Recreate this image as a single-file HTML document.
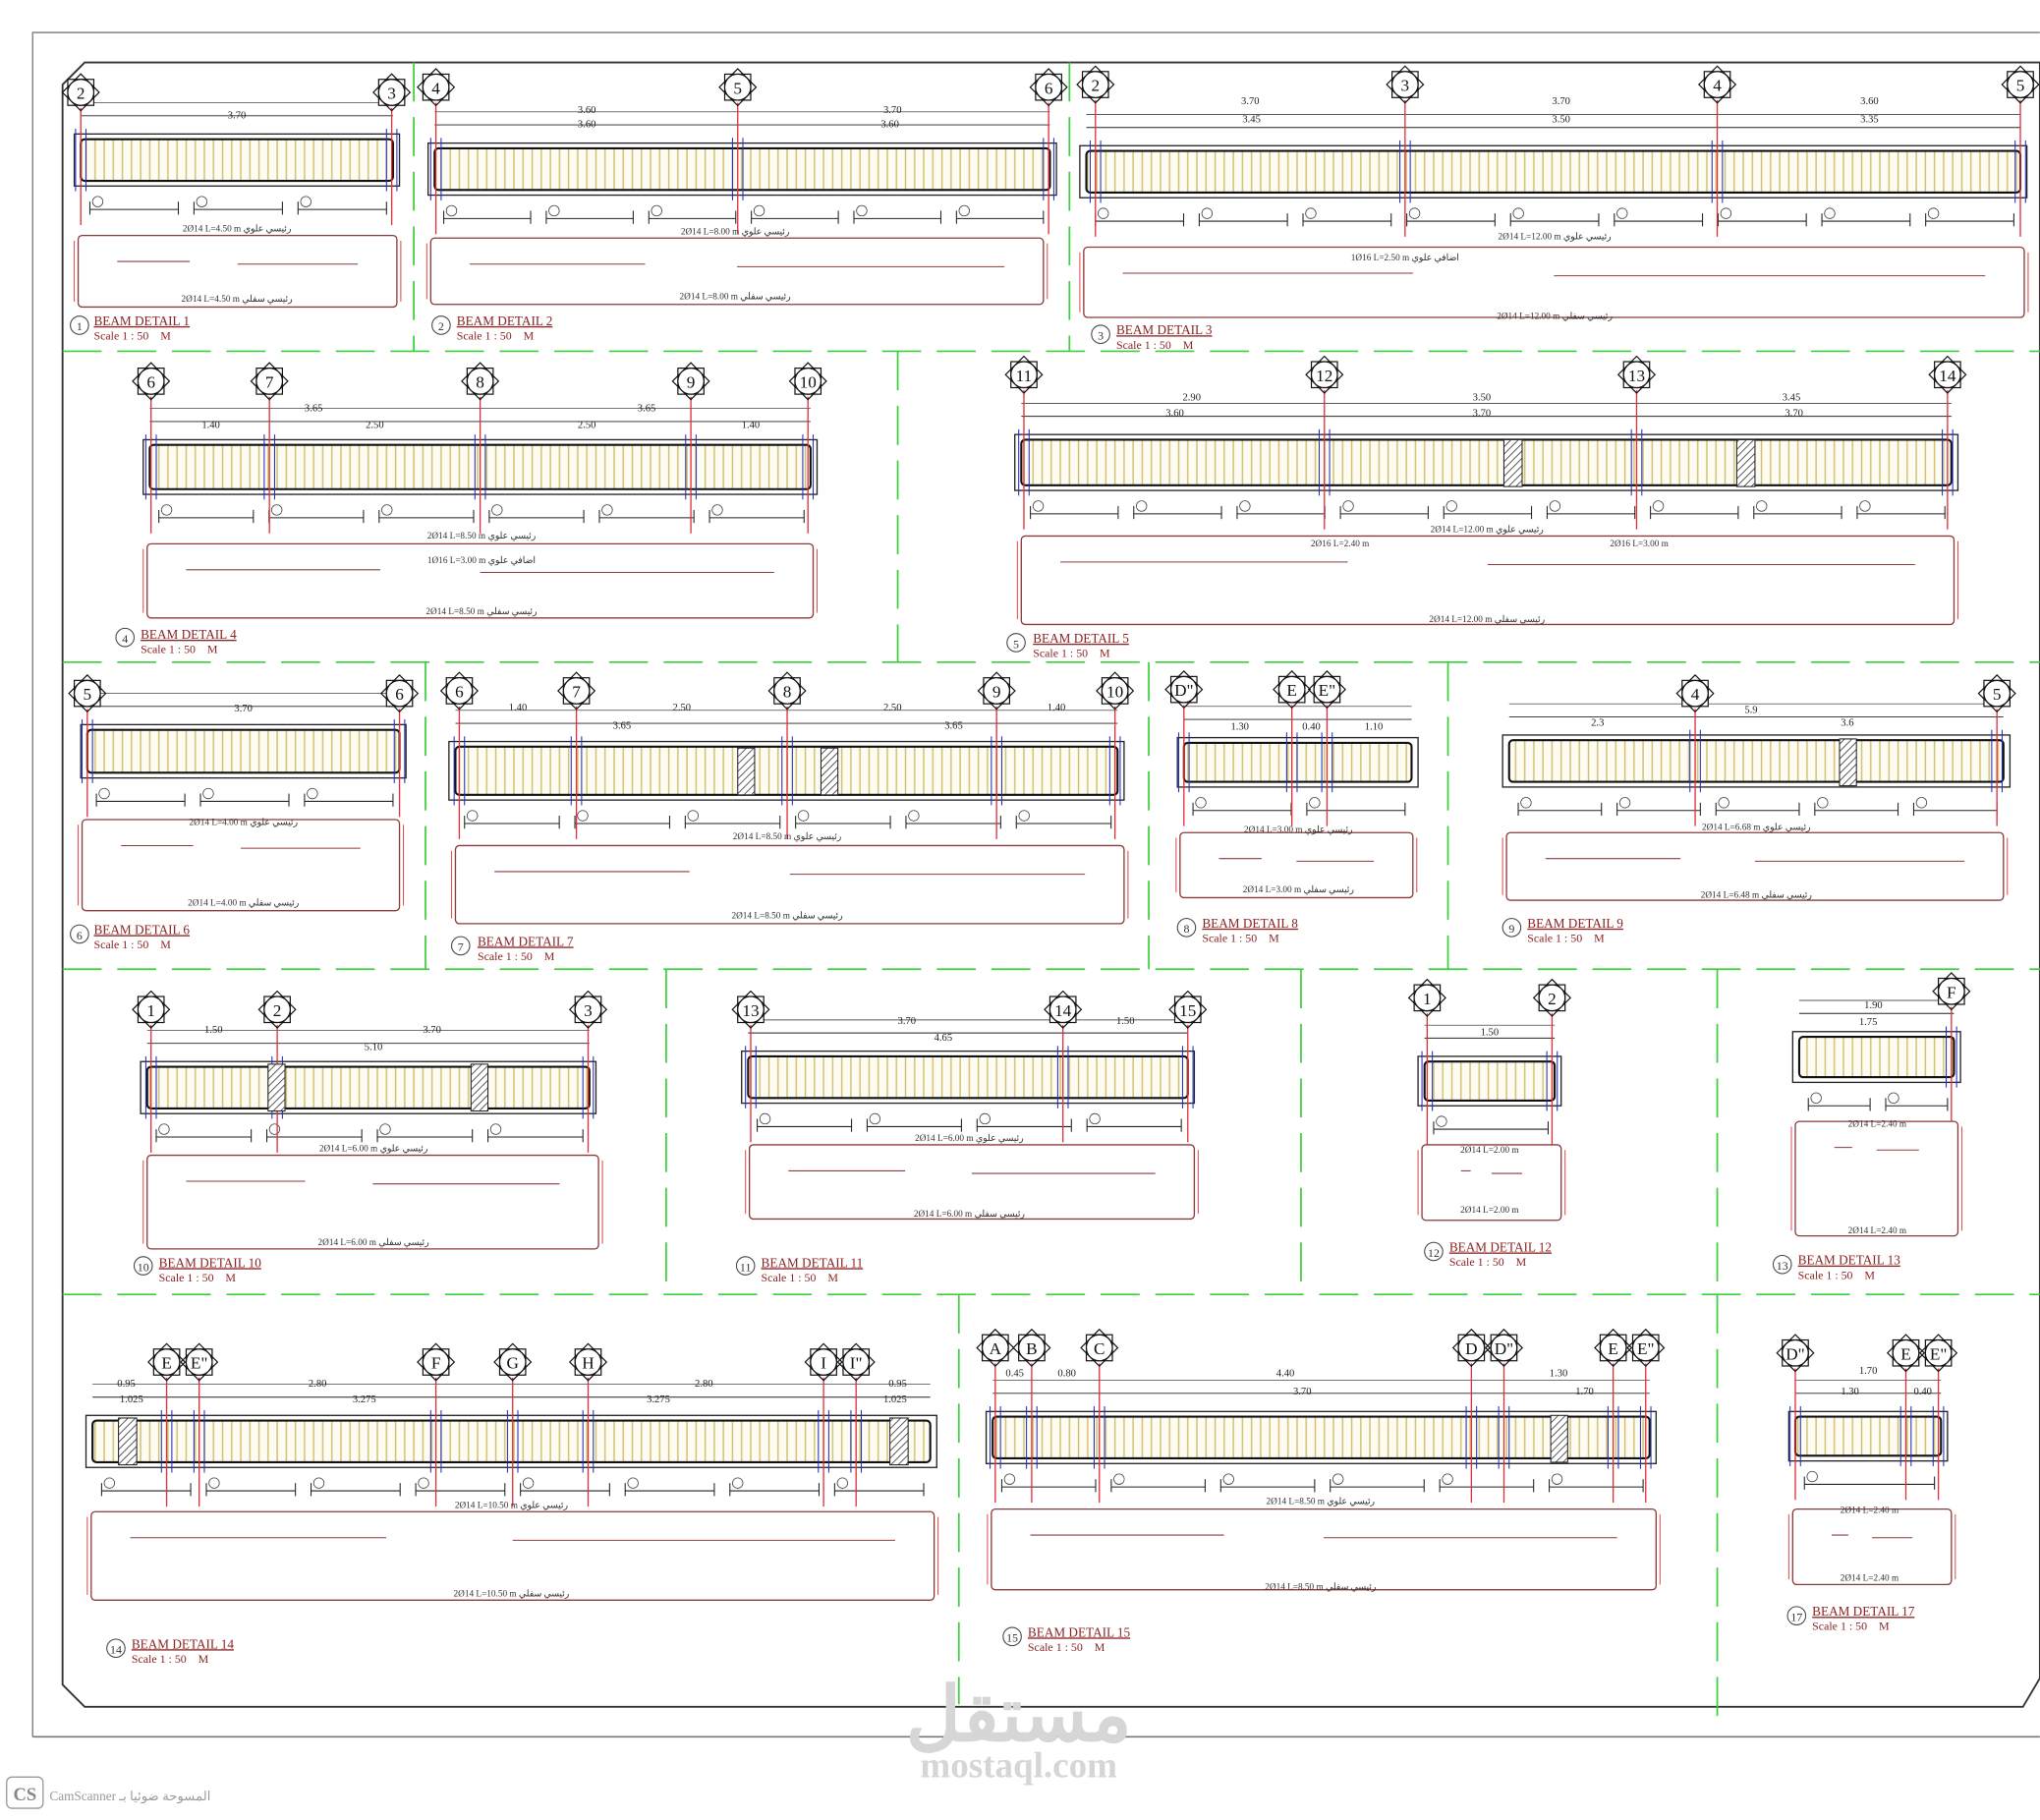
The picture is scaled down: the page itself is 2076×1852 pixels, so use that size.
<!DOCTYPE html>
<html><head><meta charset="utf-8">
<style>
html,body{margin:0;padding:0;background:#fff;}
svg{display:block;}
text{font-family:"Liberation Serif",serif;}
.b{font-size:13px;text-anchor:middle;fill:#111;}
.d{font-size:8px;text-anchor:middle;fill:#222;}
.t{font-size:10px;fill:#8b2323;text-decoration:underline;}
.s{font-size:9px;fill:#8b2323;}
.r{font-size:7px;fill:#333;text-anchor:middle;}
</style></head>
<body>
<svg id="sv" width="2076" height="1852" viewBox="0 0 1568 1399" xmlns="http://www.w3.org/2000/svg">
<defs>
<pattern id="st" width="7" height="10" patternUnits="userSpaceOnUse"><rect width="7" height="10" fill="#fefcf2"/><line x1="3" y1="0" x2="3" y2="10" stroke="#cfc070" stroke-width="1.1"/></pattern>
<pattern id="hat" width="4" height="4" patternUnits="userSpaceOnUse" patternTransform="rotate(45)"><rect width="4" height="4" fill="#fff"/><line x1="0" y1="0" x2="0" y2="4" stroke="#333" stroke-width="1.2"/></pattern>
<g id="bub"><rect x="-10" y="-10" width="20" height="20" fill="#fff" stroke="#111" stroke-width="0.9"/><rect x="-10" y="-10" width="20" height="20" fill="none" stroke="#111" stroke-width="0.9" transform="rotate(45)"/><circle r="10" fill="#fff" stroke="#111" stroke-width="0.9"/></g>
</defs>
<rect width="1568" height="1399" fill="#fff"/>
<polyline points="25,1335 25,25 1568,25" fill="none" stroke="#777" stroke-width="1"/>
<line x1="25" y1="1335" x2="1568" y2="1335" stroke="#777" stroke-width="1.2"/>
<polygon points="65,48 1568,48 1568,1290 1555,1312 65,1312 48,1295 48,65" fill="none" stroke="#333" stroke-width="1.4"/>
<g id="grid" stroke="#3ccf3c" stroke-width="1.3" fill="none"></g>
<g id="g"></g>
<g class="b">
<text x="62" y="76">2</text><text x="301" y="76">3</text>
<text x="335" y="72">4</text><text x="567" y="72">5</text><text x="806" y="72">6</text>
<text x="842" y="70">2</text><text x="1080" y="70">3</text><text x="1320" y="70">4</text><text x="1553" y="70">5</text>
<text x="116" y="298">6</text><text x="207" y="298">7</text><text x="369" y="298">8</text><text x="531" y="298">9</text><text x="621" y="298">10</text>
<text x="787" y="293">11</text><text x="1018" y="293">12</text><text x="1258" y="293">13</text><text x="1497" y="293">14</text>
<text x="67" y="538">5</text><text x="307" y="538">6</text>
<text x="353" y="536">6</text><text x="443" y="536">7</text><text x="605" y="536">8</text><text x="766" y="536">9</text><text x="857" y="536">10</text>
<text x="910" y="535">D"</text><text x="993" y="535">E</text><text x="1020" y="535">E"</text>
<text x="1303" y="538">4</text><text x="1535" y="538">5</text>
<text x="116" y="781">1</text><text x="213" y="781">2</text><text x="452" y="781">3</text>
<text x="577" y="781">13</text><text x="817" y="781">14</text><text x="913" y="781">15</text>
<text x="1097" y="772">1</text><text x="1193" y="772">2</text>
<text x="1500" y="767">F</text>
<text x="128" y="1052">E</text><text x="153" y="1052">E"</text><text x="335" y="1052">F</text><text x="394" y="1052">G</text><text x="452" y="1052">H</text><text x="633" y="1052">I</text><text x="658" y="1052">I"</text>
<text x="765" y="1041">A</text><text x="793" y="1041">B</text><text x="845" y="1041">C</text><text x="1131" y="1041">D</text><text x="1156" y="1041">D"</text><text x="1240" y="1041">E</text><text x="1265" y="1041">E"</text>
<text x="1380" y="1045">D"</text><text x="1465" y="1045">E</text><text x="1490" y="1045">E"</text>
</g>
<g class="d">
<text x="182" y="91">3.70</text>
<text x="451" y="87">3.60</text><text x="686" y="87">3.70</text><text x="451" y="98">3.60</text><text x="684" y="98">3.60</text>
<text x="961" y="80">3.70</text><text x="1200" y="80">3.70</text><text x="1437" y="80">3.60</text><text x="962" y="94">3.45</text><text x="1200" y="94">3.50</text><text x="1437" y="94">3.35</text>
<text x="241" y="316">3.65</text><text x="497" y="316">3.65</text><text x="162" y="329">1.40</text><text x="288" y="329">2.50</text><text x="451" y="329">2.50</text><text x="577" y="329">1.40</text>
<text x="916" y="308">2.90</text><text x="1139" y="308">3.50</text><text x="1377" y="308">3.45</text><text x="903" y="320">3.60</text><text x="1139" y="320">3.70</text><text x="1379" y="320">3.70</text>
<text x="187" y="547">3.70</text>
<text x="398" y="546">1.40</text><text x="524" y="546">2.50</text><text x="686" y="546">2.50</text><text x="812" y="546">1.40</text><text x="478" y="560">3.65</text><text x="733" y="560">3.65</text>
<text x="953" y="561">1.30</text><text x="1008" y="561">0.40</text><text x="1056" y="561">1.10</text>
<text x="1228" y="558">2.3</text><text x="1346" y="548">5.9</text><text x="1420" y="558">3.6</text>
<text x="164" y="794">1.50</text><text x="332" y="794">3.70</text><text x="287" y="807">5.10</text>
<text x="697" y="787">3.70</text><text x="865" y="787">1.50</text><text x="725" y="800">4.65</text>
<text x="1145" y="796">1.50</text>
<text x="1440" y="775">1.90</text><text x="1436" y="788">1.75</text>
<text x="97" y="1066">0.95</text><text x="244" y="1066">2.80</text><text x="541" y="1066">2.80</text><text x="690" y="1066">0.95</text><text x="101" y="1078">1.025</text><text x="280" y="1078">3.275</text><text x="506" y="1078">3.275</text><text x="688" y="1078">1.025</text>
<text x="988" y="1058">4.40</text><text x="1001" y="1072">3.70</text><text x="1218" y="1072">1.70</text><text x="1198" y="1058">1.30</text><text x="780" y="1058">0.45</text><text x="820" y="1058">0.80</text>
<text x="1436" y="1056">1.70</text><text x="1422" y="1072">1.30</text><text x="1478" y="1072">0.40</text>
</g>
<g class="r">
<text x="182" y="178">2Ø14 L=4.50 m رئيسي علوي</text><text x="182" y="232">2Ø14 L=4.50 m رئيسي سفلي</text>
<text x="565" y="180">2Ø14 L=8.00 m رئيسي علوي</text><text x="565" y="230">2Ø14 L=8.00 m رئيسي سفلي</text>
<text x="1195" y="184">2Ø14 L=12.00 m رئيسي علوي</text><text x="1195" y="245">2Ø14 L=12.00 m رئيسي سفلي</text><text x="1080" y="200">1Ø16 L=2.50 m اضافي علوي</text>
<text x="370" y="414">2Ø14 L=8.50 m رئيسي علوي</text><text x="370" y="472">2Ø14 L=8.50 m رئيسي سفلي</text><text x="370" y="433">1Ø16 L=3.00 m اضافي علوي</text>
<text x="1143" y="409">2Ø14 L=12.00 m رئيسي علوي</text><text x="1143" y="478">2Ø14 L=12.00 m رئيسي سفلي</text><text x="1030" y="420">2Ø16 L=2.40 m</text><text x="1260" y="420">2Ø16 L=3.00 m</text>
<text x="187" y="634">2Ø14 L=4.00 m رئيسي علوي</text><text x="187" y="696">2Ø14 L=4.00 m رئيسي سفلي</text>
<text x="605" y="645">2Ø14 L=8.50 m رئيسي علوي</text><text x="605" y="706">2Ø14 L=8.50 m رئيسي سفلي</text>
<text x="998" y="640">2Ø14 L=3.00 m رئيسي علوي</text><text x="998" y="686">2Ø14 L=3.00 m رئيسي سفلي</text>
<text x="1350" y="638">2Ø14 L=6.68 m رئيسي علوي</text><text x="1350" y="690">2Ø14 L=6.48 m رئيسي سفلي</text>
<text x="287" y="885">2Ø14 L=6.00 m رئيسي علوي</text><text x="287" y="957">2Ø14 L=6.00 m رئيسي سفلي</text>
<text x="745" y="877">2Ø14 L=6.00 m رئيسي علوي</text><text x="745" y="935">2Ø14 L=6.00 m رئيسي سفلي</text>
<text x="1145" y="886">2Ø14 L=2.00 m</text><text x="1145" y="932">2Ø14 L=2.00 m</text>
<text x="1443" y="866">2Ø14 L=2.40 m</text><text x="1443" y="948">2Ø14 L=2.40 m</text>
<text x="393" y="1159">2Ø14 L=10.50 m رئيسي علوي</text><text x="393" y="1227">2Ø14 L=10.50 m رئيسي سفلي</text>
<text x="1015" y="1156">2Ø14 L=8.50 m رئيسي علوي</text><text x="1015" y="1222">2Ø14 L=8.50 m رئيسي سفلي</text>
<text x="1437" y="1163">2Ø14 L=2.40 m</text><text x="1437" y="1215">2Ø14 L=2.40 m</text>
</g>
<g>
<text class="t" x="72" y="250">BEAM DETAIL 1</text><text class="s" x="72" y="261">Scale 1 : 50 &#160;&#160; M</text>
<text class="t" x="351" y="250">BEAM DETAIL 2</text><text class="s" x="351" y="261">Scale 1 : 50 &#160;&#160; M</text>
<text class="t" x="858" y="257">BEAM DETAIL 3</text><text class="s" x="858" y="268">Scale 1 : 50 &#160;&#160; M</text>
<text class="t" x="108" y="491">BEAM DETAIL 4</text><text class="s" x="108" y="502">Scale 1 : 50 &#160;&#160; M</text>
<text class="t" x="794" y="494">BEAM DETAIL 5</text><text class="s" x="794" y="505">Scale 1 : 50 &#160;&#160; M</text>
<text class="t" x="72" y="718">BEAM DETAIL 6</text><text class="s" x="72" y="729">Scale 1 : 50 &#160;&#160; M</text>
<text class="t" x="367" y="727">BEAM DETAIL 7</text><text class="s" x="367" y="738">Scale 1 : 50 &#160;&#160; M</text>
<text class="t" x="924" y="713">BEAM DETAIL 8</text><text class="s" x="924" y="724">Scale 1 : 50 &#160;&#160; M</text>
<text class="t" x="1174" y="713">BEAM DETAIL 9</text><text class="s" x="1174" y="724">Scale 1 : 50 &#160;&#160; M</text>
<text class="t" x="122" y="974">BEAM DETAIL 10</text><text class="s" x="122" y="985">Scale 1 : 50 &#160;&#160; M</text>
<text class="t" x="585" y="974">BEAM DETAIL 11</text><text class="s" x="585" y="985">Scale 1 : 50 &#160;&#160; M</text>
<text class="t" x="1114" y="962">BEAM DETAIL 12</text><text class="s" x="1114" y="973">Scale 1 : 50 &#160;&#160; M</text>
<text class="t" x="1382" y="972">BEAM DETAIL 13</text><text class="s" x="1382" y="983">Scale 1 : 50 &#160;&#160; M</text>
<text class="t" x="101" y="1267">BEAM DETAIL 14</text><text class="s" x="101" y="1278">Scale 1 : 50 &#160;&#160; M</text>
<text class="t" x="790" y="1258">BEAM DETAIL 15</text><text class="s" x="790" y="1269">Scale 1 : 50 &#160;&#160; M</text>
<text class="t" x="1393" y="1242">BEAM DETAIL 17</text><text class="s" x="1393" y="1253">Scale 1 : 50 &#160;&#160; M</text>
</g>
<g font-size="9" text-anchor="middle" fill="#333">
<text x="61" y="254">1</text><text x="339" y="254">2</text><text x="846" y="261">3</text><text x="96" y="494">4</text><text x="781" y="498">5</text><text x="61" y="722">6</text><text x="354" y="731">7</text><text x="912" y="717">8</text><text x="1162" y="717">9</text><text x="110" y="977">10</text><text x="573" y="977">11</text><text x="1102" y="966">12</text><text x="1370" y="976">13</text><text x="89" y="1271">14</text><text x="778" y="1262">15</text><text x="1381" y="1246">17</text>
</g>
<text x="783" y="1338" font-family="Liberation Sans, sans-serif" font-size="58" font-weight="bold" fill="#d6d6d6" text-anchor="middle">مستقل</text>
<text x="783" y="1366" font-family="Liberation Sans, sans-serif" font-size="28" font-weight="bold" fill="#d6d6d6" text-anchor="middle">mostaql.com</text>
<rect x="5" y="1366" width="28" height="24" rx="4" fill="#fff" stroke="#999"/>
<text x="19" y="1384" font-family="Liberation Sans, sans-serif" font-size="14" font-weight="bold" fill="#888" text-anchor="middle">CS</text>
<text x="38" y="1384" font-family="Liberation Sans, sans-serif" font-size="10" fill="#999">CamScanner المسوحة ضوئيا بـ</text>
</svg>
<script>
var NS="http://www.w3.org/2000/svg",G=document.getElementById("g"),GR=document.getElementById("grid");
function el(p,t,a){var e=document.createElementNS(NS,t);for(var k in a)e.setAttribute(k,a[k]);p.appendChild(e);return e;}
function ln(p,x1,y1,x2,y2,c,w,da){var a={x1:x1,y1:y1,x2:x2,y2:y2,stroke:c,"stroke-width":w||1};if(da)a["stroke-dasharray"]=da;el(p,"line",a);}
var D="30 12";
[[48,270,1568,270],[48,509,1568,509],[48,745,1568,745],[48,995,1568,995]].forEach(function(a){ln(GR,a[0],a[1],a[2],a[3],"#3ccf3c",1.3,D);});
[[318,48,318,270],[822,48,822,270],[690,270,690,509],[327,509,327,745],[883,509,883,745],[1113,509,1113,745],[512,745,512,995],[1000,745,1000,995],[1320,745,1320,995],[737,995,737,1310],[1320,995,1320,1320]].forEach(function(a){ln(GR,a[0],a[1],a[2],a[3],"#3ccf3c",1.3,D);});
var B=[
[57,103,250,40,[62,301],71,[60,181,305,236]],
[329,110,483,40,[335,567,806],67,[331,183,802,234]],
[830,112,728,40,[842,1080,1320,1553],65,[833,190,1556,244]],
[110,338,518,42,[116,207,369,531,621],293,[113,418,625,475]],
[780,334,725,43,[787,1018,1258,1497],288,[785,412,1502,480]],
[62,557,250,41,[67,307],533,[63,630,307,700]],
[345,570,519,45,[353,443,605,766,857],531,[350,650,864,710]],
[905,567,185,38,[910,993,1020],530,[907,640,1086,690]],
[1155,565,390,40,[1303,1535],533,[1158,640,1540,692]],
[108,816,350,40,[116,213,452],776,[113,888,460,960]],
[570,808,348,40,[577,817,913],776,[576,880,918,937]],
[1090,812,110,38,[1097,1193],767,[1093,880,1200,938]],
[1378,793,129,39,[1500],762,[1380,862,1505,950]],
[66,1088,654,40,[128,153,335,394,452,633,658],1047,[70,1162,718,1230]],
[758,1085,515,40,[765,793,845,1131,1156,1240,1265],1036,[762,1160,1273,1222]],
[1375,1085,122,38,[1380,1465,1490],1040,[1378,1160,1500,1218]]
];
B.forEach(function(b){
 var x=b[0],y=b[1],w=b[2],h=b[3],bx=b[6];
 ln(G,x+5,y-14,x+w-5,y-14,"#222",0.7);
 ln(G,x+5,y-24,x+w-5,y-24,"#222",0.5);
 el(G,"rect",{x:x,y:y,width:w,height:h,fill:"#fff",stroke:"#222","stroke-width":1});
 el(G,"rect",{x:x+5,y:y+4,width:w-10,height:h-8,rx:3,fill:"url(#st)",stroke:"#111","stroke-width":1.6});
 var n=Math.max(1,Math.round(w/85));var seg=(w-10)/n;
 for(var i=0;i<n;i++){var sx=x+8+i*seg;ln(G,sx+4,y+h+18,sx+seg-8,y+h+18,"#222",0.8);ln(G,sx+4,y+h+12,sx+4,y+h+22,"#222",0.8);ln(G,sx+seg-8,y+h+12,sx+seg-8,y+h+22,"#222",0.8);
  el(G,"circle",{cx:sx+10,cy:y+h+12,r:4,fill:"none",stroke:"#444","stroke-width":0.6});}
 b[4].forEach(function(bx2){ln(G,bx2,b[5]+12,bx2,y+h+30,"#e0303a",1);
   ln(G,bx2-4,y-4,bx2-4,y+h+4,"#2030c0",0.8);ln(G,bx2+4,y-4,bx2+4,y+h+4,"#2030c0",0.8);
   el(G,"use",{href:"#bub",x:bx2,y:b[5]});});
 el(G,"rect",{x:bx[0],y:bx[1],width:bx[2]-bx[0],height:bx[3]-bx[1],rx:3,fill:"none",stroke:"#8b3a3a","stroke-width":1});
 ln(G,bx[0]+30,bx[1]+20,bx[0]+(bx[2]-bx[0])*0.35,bx[1]+20,"#8b3a3a",0.8);
 ln(G,bx[0]+(bx[2]-bx[0])*0.5,bx[1]+22,bx[2]-30,bx[1]+22,"#8b3a3a",0.8);
 ln(G,bx[0]-3,bx[1]+4,bx[0]-3,bx[3]-4,"#e05050",0.8);ln(G,bx[2]+3,bx[1]+4,bx[2]+3,bx[3]-4,"#e05050",0.8);
});
[[61,250],[339,250],[846,257],[96,490],[781,494],[61,718],[354,727],[912,713],[1162,713],[110,973],[573,973],[1102,962],[1370,972],[89,1267],[778,1258],[1381,1242]].forEach(function(c){el(G,"circle",{cx:c[0],cy:c[1],r:7,fill:"none",stroke:"#444","stroke-width":0.8});});
[[1156,338,14,36],[1335,338,14,36],[567,575,13,36],[631,575,13,36],[1414,568,13,36],[206,818,13,36],[362,818,13,36],[91,1090,14,36],[684,1090,14,36],[1192,1088,13,36]].forEach(function(h){el(G,"rect",{x:h[0],y:h[1],width:h[2],height:h[3],fill:"url(#hat)",stroke:"#222","stroke-width":0.8});});
</script>
</body></html>
